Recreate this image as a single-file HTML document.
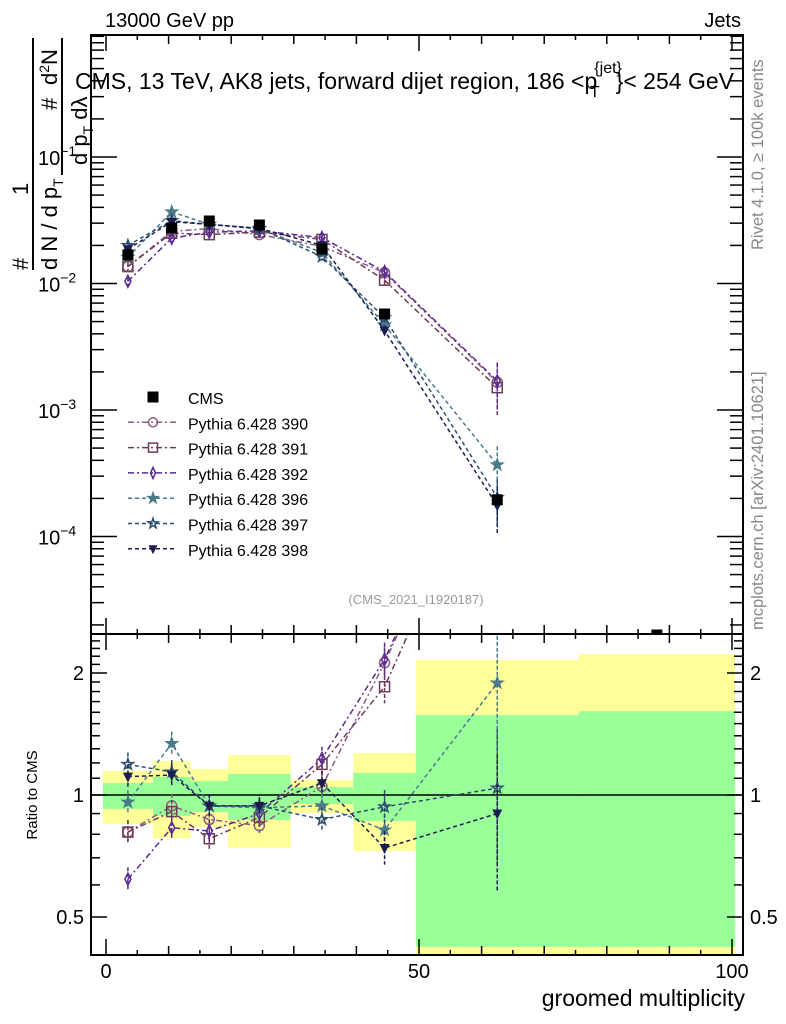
<!DOCTYPE html>
<html><head><meta charset="utf-8">
<style>
html,body{margin:0;padding:0;background:#fff;}
svg{display:block;font-family:"Liberation Sans",sans-serif;}
</style></head>
<body>
<svg id="chart" width="786" height="1024" viewBox="0 0 786 1024" xmlns="http://www.w3.org/2000/svg">
<g id="bands"></g>
<g id="frames"></g>
<g id="series"></g>
<g id="legend"></g>
<text x="105" y="27" font-size="20">13000 GeV pp</text>
<text x="741" y="27" font-size="20" text-anchor="end">Jets</text>
<text x="75" y="89" font-size="23">CMS, 13 TeV, AK8 jets, forward dijet region, 186 &lt;p<tspan font-size="16" dy="-16" dx="-3">{jet}</tspan><tspan font-size="16" dx="-32" dy="24">T</tspan><tspan dy="-8" dx="16">}&lt; 254 GeV</tspan></text>
<text x="416" y="604" font-size="13" fill="#999" text-anchor="middle">(CMS_2021_I1920187)</text>
<text transform="translate(763,250) rotate(-90)" font-size="16.5" fill="#888">Rivet 4.1.0, ≥ 100k events</text>
<text transform="translate(763,630) rotate(-90)" font-size="16.5" fill="#888">mcplots.cern.ch [arXiv:2401.10621]</text>
<text transform="translate(37,795) rotate(-90)" font-size="15" text-anchor="middle">Ratio to CMS</text>
<text x="745" y="1006" font-size="23" text-anchor="end">groomed multiplicity</text>
<g font-size="22">
<text transform="translate(28,270) rotate(-90)">#</text>
<text transform="translate(28,195) rotate(-90)">1</text>
<line x1="33" y1="270" x2="33" y2="38" stroke="#000" stroke-width="2"/>
<text transform="translate(57,270) rotate(-90)">d N / d p<tspan font-size="14" dy="6">T</tspan></text>
<text transform="translate(57,110) rotate(-90)">#</text>
<line x1="62" y1="175" x2="62" y2="38" stroke="#000" stroke-width="2"/>
<text transform="translate(57,85) rotate(-90)">d<tspan font-size="14" dy="-8">2</tspan><tspan dy="8">N</tspan></text>
<text transform="translate(87,165) rotate(-90)">d p<tspan font-size="14" dy="6">T</tspan><tspan dy="-6"> d</tspan>λ</text>
</g>
</svg>
<script>
const categories=[3.5,10.5,16.5,24.5,34.5,44.5,62.5,88];
const binEdges=[-0.5,7.5,13.5,19.5,29.5,39.5,49.5,75.5,100.5];
const cmsValues=[0.0168,0.0275,0.0312,0.029,0.01875,0.00574,0.000195,0.000015];
const yellowHi=[1.146,1.213,1.159,1.255,1.089,1.269,2.153,2.228];
const yellowLo=[0.848,0.783,0.834,0.740,0.903,0.727,0.38,0.38];
const greenHi=[1.07,1.108,1.083,1.127,1.046,1.133,1.575,1.61];
const greenLo=[0.924,0.888,0.908,0.868,0.95,0.863,0.422,0.422];
const r390=[0.81,0.94,0.87,0.84,1.05,2.12,8.5];
const r391=[0.81,0.91,0.78,0.88,1.19,1.85,7.7];
const r392=[0.62,0.83,0.815,0.90,1.23,2.16,8.7];
const r396=[0.96,1.34,0.94,0.93,0.94,0.82,1.89];
const r397=[1.19,1.14,0.94,0.94,0.87,0.935,1.04];
const r398=[1.11,1.12,0.94,0.94,1.07,0.74,0.90];
const relErr=[0.07,0.07,0.07,0.05,0.07,0.1,0.4];
const seriesNames=["Pythia 6.428 390","Pythia 6.428 391","Pythia 6.428 392","Pythia 6.428 396","Pythia 6.428 397","Pythia 6.428 398"];
const xTicks=[0,50,100];
const yTickExp=[-1,-2,-3,-4];
const rTicks=[0.5,1,2];

const NS="http://www.w3.org/2000/svg";
const X0=91,X1=743,T=35,M=634,B=955;
const xs=v=>106+(v)*6.26;
const ys=v=>157-(Math.log10(v)+1)*126.5;
const rs=v=>795-405.3*Math.log10(v);
function mk(p,tag,at){const e=document.createElementNS(NS,tag);for(const k in at)e.setAttribute(k,at[k]);p.appendChild(e);return e;}
const bands=document.getElementById('bands'),fr=document.getElementById('frames'),sr=document.getElementById('series'),lg=document.getElementById('legend');
const clipR=v=>Math.max(M,Math.min(B,v));
for(let i=0;i<binEdges.length-1;i++){
 const xa=Math.max(X0,xs(binEdges[i])),xb=Math.min(X1,xs(binEdges[i+1]));
 const y1=mk(bands,'rect',{x:xa,y:clipR(rs(yellowHi[i])),width:xb-xa,height:clipR(rs(yellowLo[i]))-clipR(rs(yellowHi[i])),fill:'#ffff99'});
 
 
 const g1=mk(bands,'rect',{x:xa,y:clipR(rs(greenHi[i])),width:xb-xa,height:clipR(rs(greenLo[i]))-clipR(rs(greenHi[i])),fill:'#99ff99'});
 
 
}
mk(fr,'rect',{x:X0,y:T,width:X1-X0,height:M-T,fill:'none',stroke:'#000','stroke-width':2});
mk(fr,'rect',{x:X0,y:M,width:X1-X0,height:B-M,fill:'none',stroke:'#000','stroke-width':2});
mk(fr,'line',{x1:X0,x2:X1,y1:rs(1),y2:rs(1),stroke:'#000','stroke-width':1.5});
for(let v=0;v<=100;v+=5){const x=xs(v);const L=v%50===0?16:(v%10===0?9:5);
 for(const [a,b] of [[T,1],[M,-1],[M,1],[B,-1]]){mk(fr,'line',{x1:x,x2:x,y1:a,y2:a+b*L,stroke:'#000','stroke-width':1.5});}}
xTicks.forEach(v=>{const t=mk(fr,'text',{x:xs(v),y:978,'font-size':20,'text-anchor':'middle'});t.textContent=v;
 
 });
for(let e=-5;e<=0;e++)for(let m=1;m<10;m++){const v=m*Math.pow(10,e);const y=ys(v);if(y<T||y>M)continue;const L=m===1?26:13;
 mk(fr,'line',{x1:X0,x2:X0+L,y1:y,y2:y,stroke:'#000','stroke-width':1.5});mk(fr,'line',{x1:X1,x2:X1-L,y1:y,y2:y,stroke:'#000','stroke-width':1.5});}
yTickExp.forEach(e=>{const t=mk(fr,'text',{x:38,y:ys(Math.pow(10,e))+8,'font-size':20});t.innerHTML='10<tspan font-size="14" dy="-9">'+(e<0?'−':'')+Math.abs(e)+'</tspan>';
 
 });
for(let v=0.4;v<=2.5;v+=0.1){const y=rs(v);if(y<M||y>B)continue;const big=Math.abs(v-0.5)<1e-6||Math.abs(v-1)<1e-6||Math.abs(v-2)<1e-6;const L=big?16:9;
 mk(fr,'line',{x1:X0,x2:X0+L,y1:y,y2:y,stroke:'#000','stroke-width':1.5});mk(fr,'line',{x1:X1,x2:X1-L,y1:y,y2:y,stroke:'#000','stroke-width':1.5});}
rTicks.forEach(v=>{for(const [x,a] of [[84,'end'],[750,'start']]){const t=mk(fr,'text',{x:x,y:rs(v)+7,'font-size':20,'text-anchor':a});t.textContent=v;
 
 }});
function marker(g,type,x,y,c,s){s=s||5;
 if(type==='sq')return mk(g,'rect',{x:x-s,y:y-s,width:2*s,height:2*s,fill:'#000'});
 if(type==='circ')return mk(g,'circle',{cx:x,cy:y,r:s,fill:'none',stroke:c,'stroke-width':1.5});
 if(type==='osq')return mk(g,'rect',{x:x-s,y:y-s,width:2*s,height:2*s,fill:'none',stroke:c,'stroke-width':1.5});
 if(type==='dia')return mk(g,'polygon',{points:`${x},${y-s-1} ${x+s-2},${y} ${x},${y+s+1} ${x-s+2},${y}`,fill:'none',stroke:c,'stroke-width':1.5});
 if(type==='star'||type==='ostar'){let p=[];for(let k=0;k<10;k++){const r=k%2?s*0.45:s*1.15;const a=-Math.PI/2+k*Math.PI/5;p.push((x+r*Math.cos(a)).toFixed(1)+','+(y+r*Math.sin(a)).toFixed(1));}
  return mk(g,'polygon',{points:p.join(' '),fill:type==='star'?c:'none',stroke:c,'stroke-width':1.5});}
 if(type==='tri')return mk(g,'polygon',{points:`${x-s},${y-s+1} ${x+s},${y-s+1} ${x},${y+s+1}`,fill:c});
}
const ratios=[r390,r391,r392,r396,r397,r398];
const colors=['#8a5a80','#6e3a58','#5a2a90','#4a7a88','#2e4e70','#1c1c50'];
const types=['circ','osq','dia','star','ostar','tri'];
const dashes=['6,3,2,3','6,3,2,3','6,3,2,3','4,3','4,3','4,3'];
const clipTop=mk(sr,'clipPath',{id:'cu'});mk(clipTop,'rect',{x:X0,y:T,width:X1-X0,height:M-T});
const clipBot=mk(sr,'clipPath',{id:'cb'});mk(clipBot,'rect',{x:X0,y:M,width:X1-X0,height:B-M});
ratios.forEach((rr,si)=>{
 const c=colors[si];
 const gu=mk(sr,'g',{'clip-path':'url(#cu)'});
 
 
 const gb=mk(sr,'g',{'clip-path':'url(#cb)'});
 
 
 const pu=rr.map((r,i)=>xs(categories[i])+','+ys(r*cmsValues[i])).join(' ');
 mk(gu,'polyline',{points:pu,fill:'none',stroke:c,'stroke-width':1.5,'stroke-dasharray':dashes[si]});
 const pb=rr.map((r,i)=>xs(categories[i])+','+rs(r)).join(' ');
 mk(gb,'polyline',{points:pb,fill:'none',stroke:c,'stroke-width':1.5,'stroke-dasharray':dashes[si]});
 rr.forEach((r,i)=>{const x=xs(categories[i]);const e=relErr[i];
  mk(gu,'line',{x1:x,x2:x,y1:ys(r*cmsValues[i]*(1+e)),y2:ys(r*cmsValues[i]*(1-e)),stroke:c,'stroke-width':1.5,'stroke-dasharray':'4,2'});
  mk(gb,'line',{x1:x,x2:x,y1:rs(r*(1+e)),y2:rs(r*(1-e*0.9)),stroke:c,'stroke-width':1.5,'stroke-dasharray':'4,2'});
  marker(gu,types[si],x,ys(r*cmsValues[i]),c);
  marker(gb,types[si],x,rs(r),c);
 });
});
const gc=mk(sr,'g',{'clip-path':'url(#cu)'});


cmsValues.forEach((v,i)=>{marker(gc,'sq',xs(categories[i]),Math.min(ys(v),M+1),'#000',5.5);});
const ly0=397,ldy=25.3;
const le0=mk(lg,'g',{});


marker(le0,'sq',153,ly0,'#000',5.5);
const t0=mk(le0,'text',{x:188,y:ly0+7,'font-size':16});t0.textContent='CMS';
seriesNames.forEach((n,si)=>{const y=ly0+(si+1)*ldy;const c=colors[si];
 const g=mk(lg,'g',{});
 
 
 mk(g,'line',{x1:128,x2:176,y1:y,y2:y,stroke:c,'stroke-width':1.5,'stroke-dasharray':dashes[si]});
 marker(g,types[si],153,y,c,4.5);
 const t=mk(g,'text',{x:188,y:y+7,'font-size':16});t.textContent=n;});
</script>
</body></html>
